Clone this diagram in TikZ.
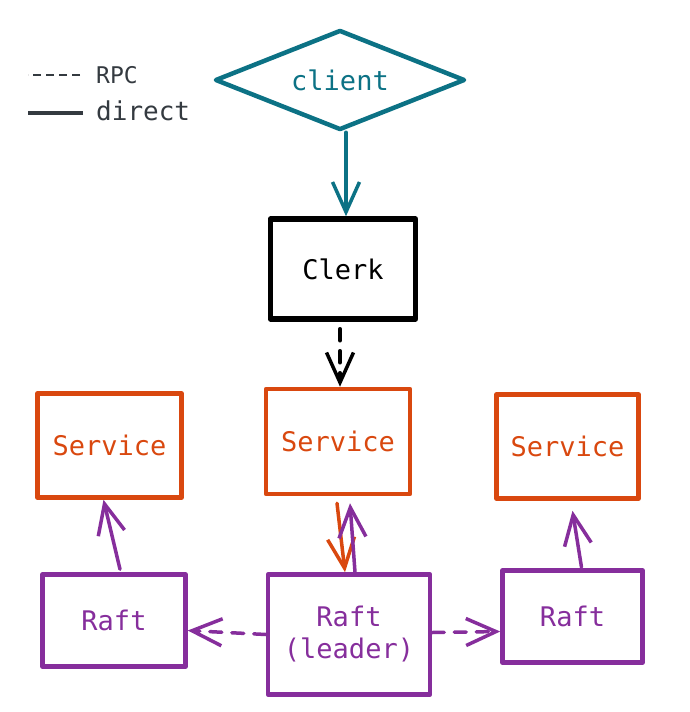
\documentclass[tikz,border=0pt]{standalone}
\usepackage{fontspec}
\setmonofont{DejaVu Sans Mono}
\usepackage{tikz}
\usetikzlibrary{positioning,shapes.geometric,arrows.meta}
\definecolor{clientteal}{RGB}{12,114,133}
\definecolor{svcorange}{RGB}{217,72,15}
\definecolor{raftpurple}{RGB}{134,46,156}
\definecolor{legendgray}{RGB}{52,58,64}

\begin{document}
\begin{tikzpicture}[x=1pt, y=-1pt,
	every node/.style={font=\ttfamily\fontsize{27}{32}\selectfont},
	box/.style={draw, rectangle, line width=4.5pt, line join=round, inner sep=0pt},
	svc/.style={box, svcorange, minimum width=144pt, minimum height=104pt},
	raft/.style={box, raftpurple, minimum width=143pt, minimum height=92pt},
	barb/.style={-{Straight Barb[length=30pt,width=27pt,line width=3.5pt]}, line width=3.5pt, line cap=round},
	rpc/.style={barb, dash pattern=on 12pt off 10pt}]

					\useasboundingbox (0,0) rectangle (690,712);

					% legend
					\node[legendgray, anchor=west, inner sep=0pt, font=\ttfamily\fontsize{23}{27}\selectfont] (rpclabel) at (96,75) {RPC};
					\node[legendgray, anchor=west, inner sep=0pt, font=\ttfamily\fontsize{26}{30}\selectfont] (directlabel) at (96,111) {direct};
					\draw[legendgray, line width=2pt, dash pattern=on 8pt off 5pt] ([xshift=-16pt]rpclabel.west) -- ++(-52pt,0);
					\draw[legendgray, line width=3.5pt] ([xshift=-13pt,yshift=-2pt]directlabel.west) -- ++(-55pt,0);

					\node[draw, diamond, aspect=2.6, clientteal, line width=4.5pt, line join=round, inner sep=0pt, minimum width=250pt, minimum height=100pt] (client) at (340,80) {client};
					\node[box, black, line width=5.5pt, minimum width=145pt, minimum height=100pt, below=84pt of client, xshift=3pt] (clerk) {Clerk};

					\node[svc, minimum height=105pt, below=65pt of clerk, xshift=-5pt] (smid) {Service};
					\node[svc, left=80pt of smid, yshift=-4pt] (sleft) {Service};
					\node[svc, right=82pt of smid, yshift=-5pt, minimum width=142pt] (sright) {Service};

					\node[raft, align=center, minimum width=162pt, minimum height=120pt, below=76pt of smid, xshift=11pt] (leader) {Raft\\(leader)};
					\node[raft, left=78pt of leader, yshift=14pt] (rleft) {Raft};
					\node[raft, right=68pt of leader, yshift=18pt, minimum width=140pt] (rright) {Raft};

					\draw[barb, clientteal] ([xshift=6pt]client.south) -- ([xshift=3pt]clerk.north);
					\draw[rpc, black] ([xshift=-3pt,yshift=-7pt]clerk.south) -- ([xshift=2pt]smid.north);

					\draw[barb, raftpurple] ([xshift=6pt,yshift=3pt]rleft.north) -- ([xshift=-6pt]sleft.south);
					\draw[barb, svcorange] ([xshift=-1pt,yshift=-7pt]smid.south) -- ([xshift=-4pt]leader.north);
					\draw[barb, raftpurple] ([xshift=6pt]leader.north) -- ([xshift=12pt,yshift=-7pt]smid.south);
					\draw[barb, raftpurple] ([xshift=9pt,yshift=1pt]rright.north) -- ([xshift=5pt,yshift=-10pt]sright.south);

					\draw[rpc, raftpurple] (leader.west) -- ([yshift=-10pt]rleft.east);
					\draw[rpc, raftpurple] ([yshift=2pt]leader.east) -- ([yshift=-15pt]rright.west);

				\end{tikzpicture}
\end{document}
